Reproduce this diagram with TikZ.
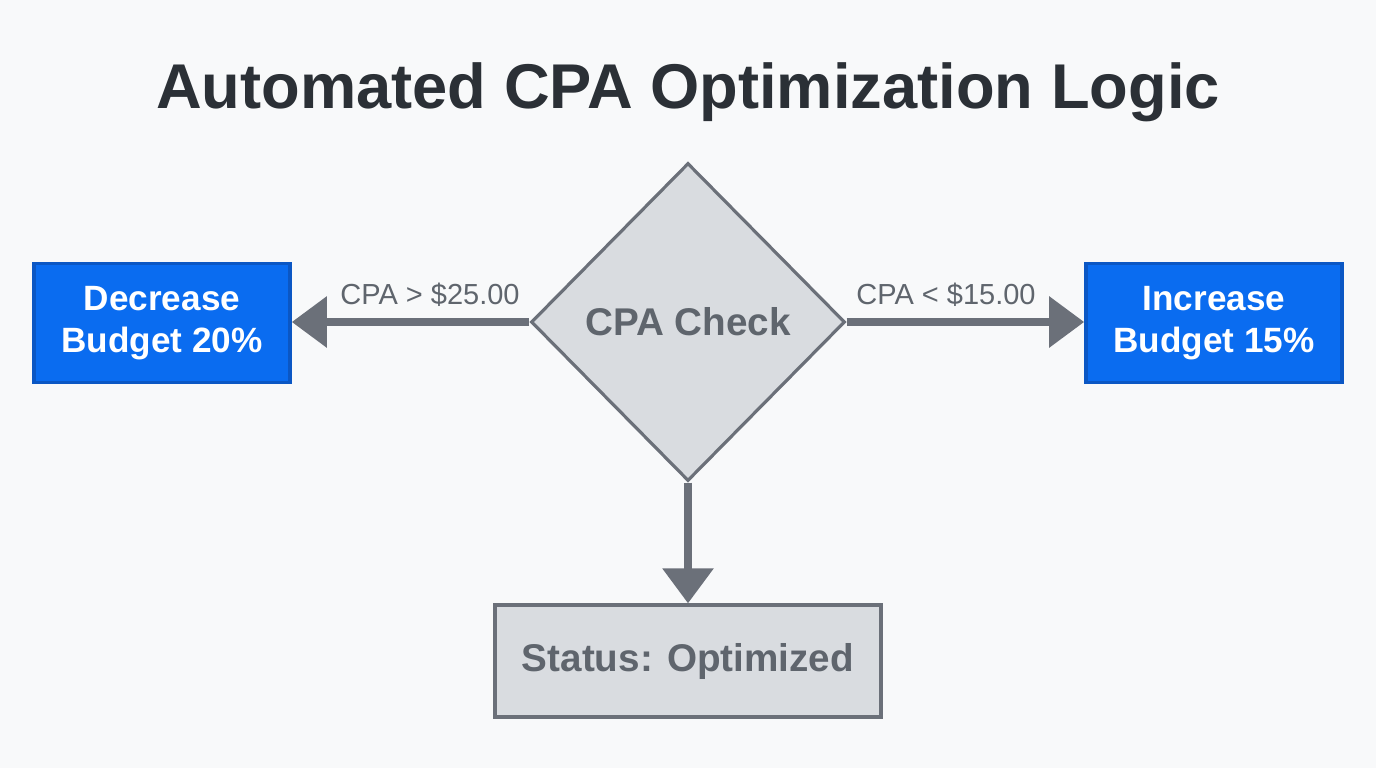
\documentclass[tikz,border=0pt]{standalone}
\usepackage{fontspec}
\setmainfont{Liberation Sans}
\usetikzlibrary{positioning, shapes.geometric, arrows.meta}

\definecolor{bgcol}{HTML}{F8F9FA}
\definecolor{titlecol}{HTML}{2B3036}
\definecolor{actblue}{HTML}{0A6CF0}
\definecolor{actedge}{HTML}{0B57C4}
\definecolor{grayfill}{HTML}{D9DCE0}
\definecolor{grayedge}{HTML}{6B7079}
\definecolor{graytext}{HTML}{5F656D}

\begin{document}
\begin{tikzpicture}[x=0.02cm, y=-0.02cm,
     action/.style={draw=actedge, line width=2pt, fill=actblue, text=white,
          font=\fontsize{20}{24}\selectfont\bfseries, align=center,
          minimum width=5.12cm, minimum height=2.38cm, inner sep=0pt},
     check/.style={diamond, draw=grayedge, line width=1.8pt, fill=grayfill,
          text=graytext, font=\fontsize{22}{26}\selectfont\bfseries,
          minimum width=6.28cm, minimum height=6.36cm, inner sep=0pt},
     status/.style={draw=grayedge, line width=1.8pt, fill=grayfill, text=graytext,
          font=\fontsize{22}{26}\selectfont\bfseries,
          minimum width=7.72cm, minimum height=2.24cm, inner sep=0pt},
     flow/.style={draw=grayedge, line width=5pt,
          -{Triangle[length=20pt, width=28pt]}},
     cond/.style={text=graytext, font=\fontsize{16.5}{20}\selectfont}]
               \fill[bgcol] (0,0) rectangle (1376,768);
               \useasboundingbox (0,0) rectangle (1376,768);
               \node[text=titlecol, font=\fontsize{36}{42}\selectfont\bfseries] (title) at (688,92) {Automated CPA Optimization Logic};
               \node[action] (decrease) at (162,323) {Decrease\\Budget 20\%};
               \node[action] (increase) at (1214,323) {Increase\\Budget 15\%};
               \node[status] (status) at (688,661) {Status: Optimized};
               \node[check] (chk) at (688,322) {CPA Check};
               \draw[flow] (chk.west) -- (chk.west -| decrease.east);
               \draw[flow] (chk.east) -- (chk.east -| increase.west);
               \draw[flow] (chk.south) -- (status.north);
               \node[cond] (gtlabel) at (430,295) {CPA > \$25.00};
               \node[cond] (ltlabel) at (946,295) {CPA < \$15.00};
          \end{tikzpicture}
\end{document}
